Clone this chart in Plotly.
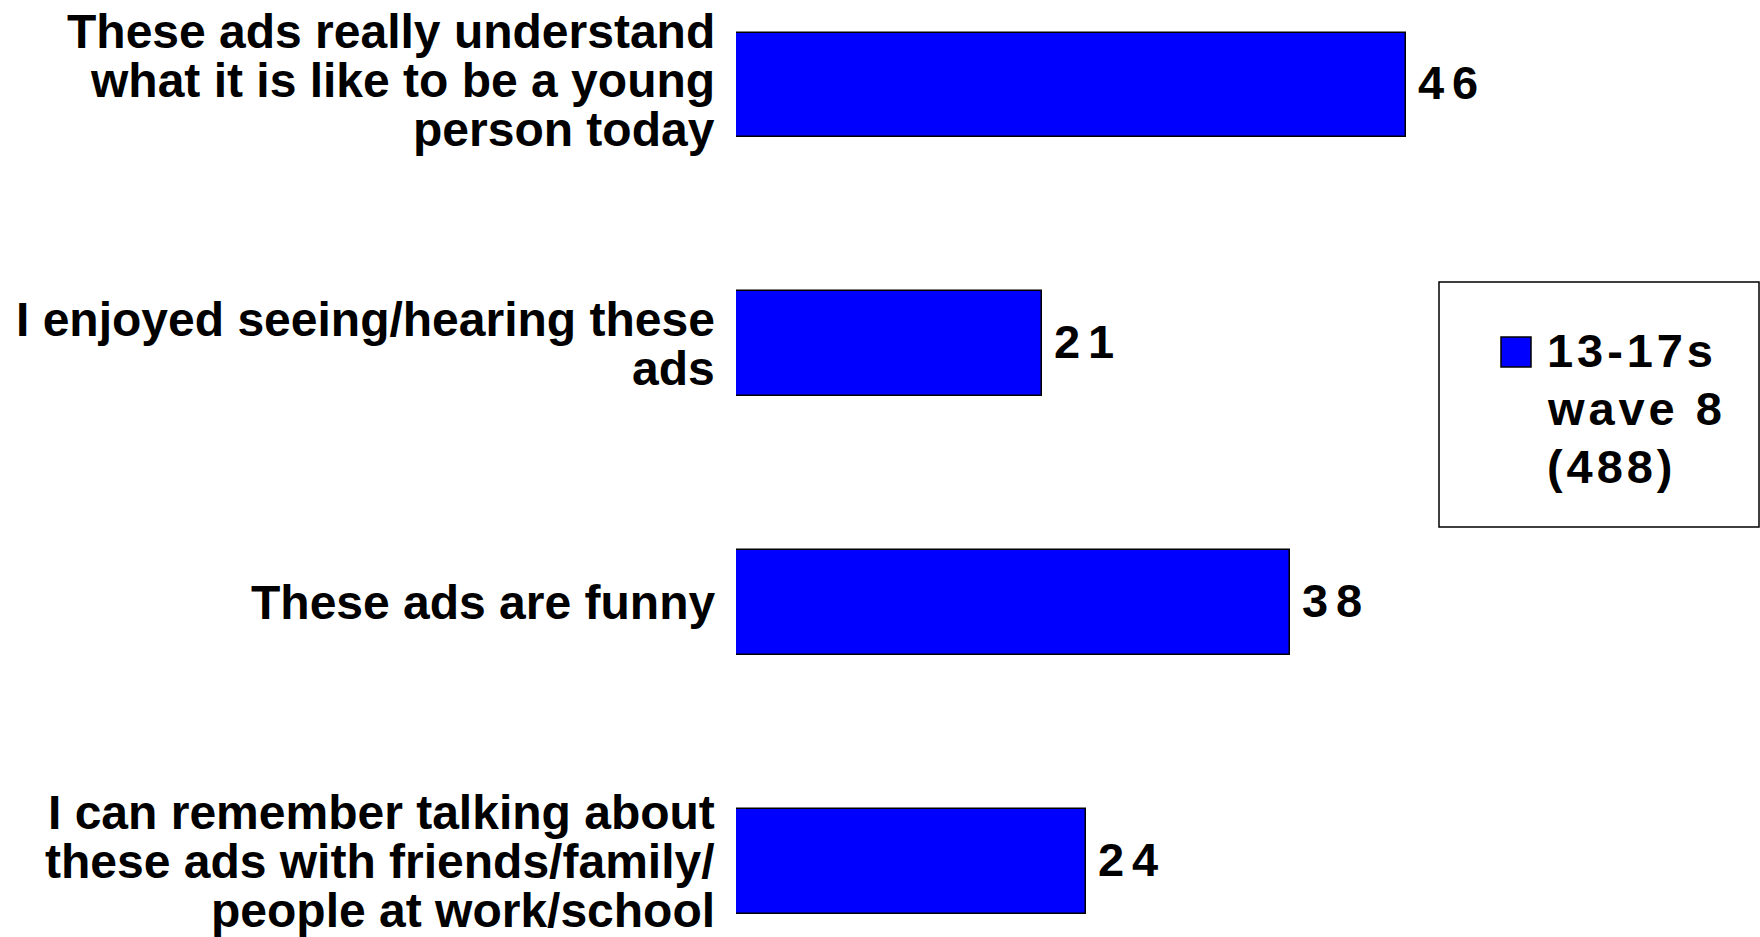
import plotly.graph_objects as go

# Survey statements (one list of lines per bar) and the share agreeing
statements = [
    ["These ads really understand", "what it is like to be a young", "person today"],
    ["I enjoyed seeing/hearing these", "ads"],
    ["These ads are funny"],
    ["I can remember talking about", "these ads with friends/family/", "people at work/school"],
]
values = [46, 21, 38, 24]
series_lines = ["13-17s", "wave 8", "(488)"]

categories = [" ".join(s) for s in statements]

FONT = "Liberation Sans, Arial, Helvetica, sans-serif"
BLUE = "#0000FF"
W, H = 1760, 937
LEFT = 736
FS = 48
LINE_H = 49
# small vertical nudge per label block (pixels, up is positive)
label_nudge = [4, 0, 0, 0]

fig = go.Figure(
    go.Bar(
        y=categories,
        x=values,
        orientation="h",
        width=0.405,
        marker=dict(color=BLUE, line=dict(color="black", width=1.5)),
        showlegend=False,
        hoverinfo="skip",
    )
)

annotations = []
# Category labels, one annotation per line so the leading stays tight
for cat, lines, nudge in zip(categories, statements, label_nudge):
    n = len(lines)
    for k, line in enumerate(lines):
        annotations.append(dict(
            x=0, y=cat, xref="x", yref="y",
            text=f"<b>{line}</b>", showarrow=False,
            xanchor="right", yanchor="middle", xshift=-19,
            yshift=-(k - (n - 1) / 2) * LINE_H + nudge,
            font=dict(family=FONT, size=FS, color="black"),
        ))

# Value labels at the end of each bar (letter-spaced digits)
for cat, v in zip(categories, values):
    annotations.append(dict(
        x=v, y=cat, xref="x", yref="y",
        text="<b>" + "\u2006".join(str(v)) + "</b>", showarrow=False,
        xanchor="left", yanchor="middle", xshift=10, yshift=2,
        font=dict(family=FONT, size=47, color="black"),
    ))

def px_x(p):
    return (p - LEFT) / (W - LEFT)

def px_y(p):
    return 1 - p / H

# Legend panel drawn by hand
shapes = [
    dict(type="rect", xref="paper", yref="paper",
         x0=px_x(1439), x1=px_x(1759), y0=px_y(527), y1=px_y(282),
         line=dict(color="black", width=1.5), fillcolor="white", layer="below"),
    dict(type="rect", xref="paper", yref="paper",
         x0=px_x(1501), x1=px_x(1531), y0=px_y(367), y1=px_y(337),
         line=dict(color="black", width=1.5), fillcolor=BLUE),
]
for k, line in enumerate(series_lines):
    annotations.append(dict(
        x=px_x(1545), y=px_y(350 + 58 * k), xref="paper", yref="paper",
        text="<b>" + "\u200a".join(line) + "</b>", showarrow=False,
        xanchor="left", yanchor="middle",
        font=dict(family=FONT, size=47, color="black"),
    ))

px_per_unit = 14.57
fig.update_layout(
    width=W, height=H,
    margin=dict(l=LEFT, r=0, t=0, b=0),
    paper_bgcolor="white", plot_bgcolor="white",
    xaxis=dict(range=[0, (W - LEFT) / px_per_unit], visible=False, fixedrange=True),
    yaxis=dict(type="category", categoryorder="array", categoryarray=categories,
               range=[3.29, -0.328], visible=False, fixedrange=True),
    annotations=annotations,
    shapes=shapes,
    bargap=0,
)

fig.write_html("out.html")
